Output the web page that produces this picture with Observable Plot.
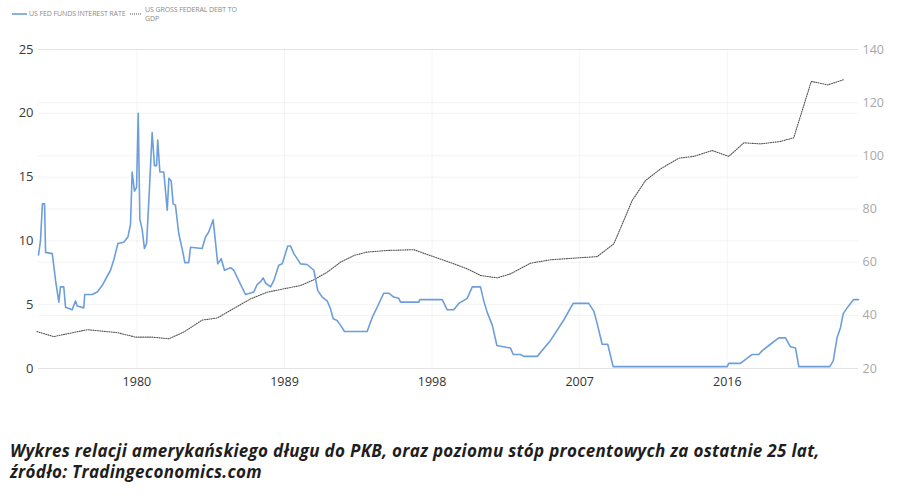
<!DOCTYPE html>
<html>
<head>
<meta charset="utf-8">
<script src="https://cdn.jsdelivr.net/npm/d3@7"></script>
<script src="https://cdn.jsdelivr.net/npm/@observablehq/plot@0.6"></script>
<style>
  html, body { margin: 0; padding: 0; background: #fff; }
  #wrap { position: relative; width: 906px; height: 496px; overflow: hidden; font-family: "Open Sans", sans-serif; }
  #chart { position: absolute; left: 0; top: 0; }
  .legend { position: absolute; font-size: 7px; color: #8a8a8a; line-height: 7px; letter-spacing: -0.1px; white-space: nowrap; }
  .sw { position: absolute; }
  #caption { position: absolute; left: 10px; top: 440px; font-family: "Open Sans", sans-serif; font-weight: 700; font-style: italic; font-size: 17px; line-height: 21px; color: #1e1e1e; letter-spacing: 0.3px; white-space: nowrap; }
</style>
</head>
<body>
<div id="wrap">
  <div id="chart"></div>
  <svg class="sw" style="left:12px;top:11px" width="16" height="6"><line x1="0" y1="3" x2="15" y2="3" stroke="#6d9edc" stroke-width="1.6"/></svg>
  <div class="legend" style="left:29px;top:10px;">US FED FUNDS INTEREST RATE</div>
  <svg class="sw" style="left:130px;top:11px" width="14" height="6"><line x1="0" y1="3" x2="12" y2="3" stroke="#555" stroke-width="1" stroke-dasharray="1,1"/></svg>
  <div class="legend" style="left:145px;top:6px;">US GROSS FEDERAL DEBT TO</div>
  <div class="legend" style="left:145px;top:14.5px;">GDP</div>
  <div id="caption">Wykres relacji amerykańskiego długu do PKB, oraz poziomu stóp procentowych za ostatnie 25 lat,<br>źródło: Tradingeconomics.com</div>
</div>
<script>
// Tick labels
const xTicks = [1980, 1989, 1998, 2007, 2016];
const leftTicks = [0, 5, 10, 15, 20, 25];
const rightTicks = [20, 40, 60, 80, 100, 120, 140];

// US Fed funds interest rate (%), decimal year
const rateYears = [1974.0, 1974.12, 1974.24, 1974.37, 1974.43, 1974.84, 1975.04, 1975.24, 1975.34, 1975.54, 1975.65, 1976.05, 1976.26, 1976.36, 1976.76, 1976.82, 1977.27, 1977.58, 1977.88, 1978.39, 1978.59, 1978.84, 1979.2, 1979.45, 1979.61, 1979.71, 1979.85, 1979.98, 1980.08, 1980.18, 1980.32, 1980.46, 1980.59, 1980.73, 1980.93, 1981.07, 1981.2, 1981.27, 1981.4, 1981.64, 1981.85, 1981.95, 1982.09, 1982.21, 1982.35, 1982.55, 1982.82, 1982.92, 1983.16, 1983.27, 1983.98, 1984.18, 1984.38, 1984.65, 1984.93, 1985.14, 1985.34, 1985.71, 1985.91, 1986.32, 1986.62, 1987.13, 1987.34, 1987.54, 1987.7, 1987.84, 1988.15, 1988.35, 1988.65, 1988.86, 1989.2, 1989.37, 1989.57, 1989.98, 1990.38, 1990.79, 1991.03, 1991.3, 1991.6, 1991.8, 1991.97, 1992.21, 1992.41, 1992.66, 1994.04, 1994.35, 1994.65, 1995.05, 1995.36, 1995.66, 1995.97, 1996.07, 1997.19, 1997.25, 1998.62, 1998.92, 1999.32, 1999.63, 2000.14, 2000.45, 2000.95, 2001.15, 2001.36, 2001.67, 2001.95, 2002.78, 2002.95, 2003.39, 2003.59, 2004.41, 2005.22, 2006.03, 2006.6, 2007.55, 2007.86, 2008.07, 2008.37, 2008.71, 2009.04, 2015.99, 2016.09, 2016.8, 2017.0, 2017.52, 2017.92, 2018.13, 2018.63, 2019.14, 2019.55, 2019.85, 2020.16, 2020.36, 2022.25, 2022.46, 2022.7, 2022.9, 2023.07, 2023.31, 2023.51, 2023.71, 2024.0];
const rateValues = [8.9, 10.0, 12.9, 12.9, 9.1, 9.0, 6.9, 5.2, 6.4, 6.4, 4.8, 4.6, 5.3, 4.9, 4.75, 5.8, 5.8, 6.0, 6.5, 7.7, 8.5, 9.8, 9.9, 10.3, 11.3, 15.4, 13.9, 14.2, 20.0, 11.7, 10.9, 9.4, 9.8, 13.2, 18.5, 15.9, 15.9, 17.9, 15.4, 15.4, 12.4, 14.9, 14.7, 12.9, 12.8, 10.6, 9.0, 8.3, 8.3, 9.5, 9.4, 10.3, 10.7, 11.65, 8.2, 8.6, 7.7, 7.9, 7.7, 6.6, 5.8, 6.0, 6.6, 6.8, 7.1, 6.7, 6.4, 6.9, 8.1, 8.2, 9.6, 9.6, 9.0, 8.2, 8.15, 7.7, 6.1, 5.6, 5.3, 4.7, 3.9, 3.76, 3.4, 2.9, 2.9, 4.0, 4.8, 5.9, 5.9, 5.6, 5.5, 5.2, 5.2, 5.4, 5.4, 4.6, 4.6, 5.1, 5.5, 6.4, 6.4, 5.3, 4.4, 3.4, 1.8, 1.6, 1.1, 1.1, 0.95, 0.95, 2.2, 3.8, 5.1, 5.1, 4.5, 3.5, 1.9, 1.9, 0.15, 0.15, 0.4, 0.4, 0.6, 1.1, 1.1, 1.4, 1.9, 2.4, 2.4, 1.7, 1.6, 0.15, 0.15, 0.6, 2.45, 3.2, 4.3, 4.75, 5.1, 5.4, 5.4];

// US gross federal debt to GDP (%), decimal year
const debtYears = [1973.9, 1974.93, 1976.97, 1978.8, 1979.91, 1980.93, 1981.95, 1982.86, 1983.98, 1984.9, 1985.91, 1986.93, 1987.95, 1988.96, 1989.98, 1990.79, 1991.6, 1992.41, 1993.23, 1994.04, 1995.26, 1996.88, 1997.7, 1999.32, 2000.14, 2000.95, 2001.97, 2002.78, 2004.0, 2005.22, 2006.85, 2008.07, 2009.08, 2009.69, 2010.2, 2011.01, 2011.93, 2013.04, 2013.96, 2015.08, 2016.09, 2017.01, 2018.02, 2019.24, 2020.05, 2021.12, 2022.13, 2023.07];
const debtValues = [33.9, 32.0, 34.6, 33.5, 31.8, 31.8, 31.2, 33.7, 38.2, 39.0, 42.6, 46.2, 48.7, 50.0, 51.2, 53.4, 56.2, 60.0, 62.5, 63.8, 64.4, 64.7, 62.9, 59.4, 57.5, 55.0, 54.1, 55.6, 59.6, 60.9, 61.6, 62.1, 66.9, 75.7, 83.2, 90.7, 95.1, 99.1, 99.8, 102.0, 99.8, 104.9, 104.5, 105.4, 106.8, 128.0, 126.7, 128.6];

// right axis (20..140) shares the frame with left axis (0..25)
const toLeft = v => (v - 20) / 4.8;

const rate = rateYears.map((t, i) => ({t, v: rateValues[i]}));
const debt = debtYears.map((t, i) => ({t, v: toLeft(debtValues[i])}));

const gridStyle = {stroke: "#000", strokeOpacity: 0.055, strokeWidth: 1};

const chart = Plot.plot({
  width: 906,
  height: 398,
  marginTop: 49,
  marginBottom: 30,
  marginLeft: 38,
  marginRight: 48,
  style: {fontFamily: "'Open Sans', sans-serif", background: "transparent"},
  x: {type: "linear", domain: [1974.0, 2024.0]},
  y: {domain: [0, 25]},
  marks: [
    Plot.gridY(leftTicks, gridStyle),
    Plot.gridY(rightTicks.map(toLeft), gridStyle),
    Plot.gridX(xTicks, {...gridStyle, strokeOpacity: 0.045}),
    Plot.axisY(leftTicks, {anchor: "left", tickSize: 0, tickPadding: 5, fontSize: 13, fill: "#3a3a3a", label: null, tickFormat: d => String(d)}),
    Plot.axisY(rightTicks.map(toLeft), {anchor: "right", tickSize: 0, tickPadding: 4, fontSize: 12.5, fill: "#a8a8a8", label: null, tickFormat: d => String(Math.round(d * 4.8 + 20))}),
    Plot.axisX(xTicks, {anchor: "bottom", tickSize: 0, tickPadding: 9, fontSize: 12.5, fill: "#333", label: null, tickFormat: d => String(d)}),
    Plot.line(debt, {x: "t", y: "v", stroke: "#555", strokeWidth: 1.1, strokeDasharray: "1,1.3"}),
    Plot.line(rate, {x: "t", y: "v", stroke: "#6d9edc", strokeWidth: 1.6, strokeLinejoin: "round"})
  ]
});
document.getElementById("chart").appendChild(chart);
</script>
</body>
</html>
